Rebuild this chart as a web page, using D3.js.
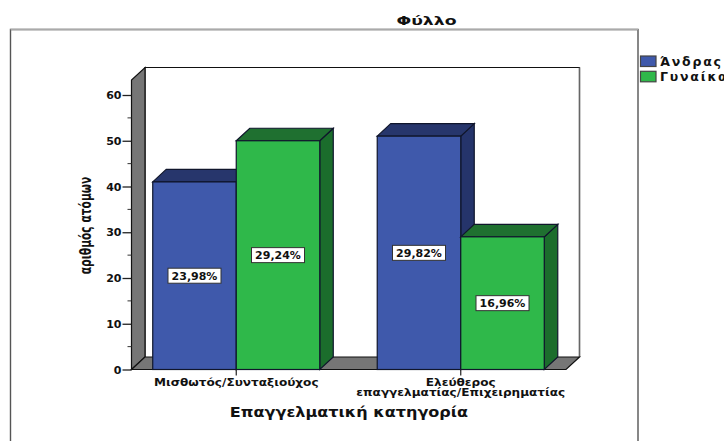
<!DOCTYPE html>
<html><head><meta charset="utf-8">
<script src="https://cdn.jsdelivr.net/npm/d3@7"></script>
<style>html,body{margin:0;padding:0;background:#fff;overflow:hidden}svg{display:block}text{font-family:"DejaVu Sans",sans-serif;font-weight:bold;fill:#111}</style>
</head><body><svg width="724" height="441"></svg>
<script>
const categories = ["Μισθωτός/Συνταξιούχος", "Ελεύθερος|επαγγελματίας/Επιχειρηματίας"];
const seriesNames = ["Άνδρας", "Γυναίκα"];
const maleValues = [41, 51];
const femaleValues = [50, 29];
const malePercents = ["23,98%", "29,82%"];
const femalePercents = ["29,24%", "16,96%"];
const yTicks = [0, 10, 20, 30, 40, 50, 60];
const yMinorTicks = [5, 15, 25, 35, 45, 55];
const frontColors = ["#3f59ab", "#2fb84a"];
const sideColors = ["#25346b", "#1b6d2c"];
const topColors = ["#27366c", "#1f7030"];

const svg = d3.select("svg");
const dx = 13.5, dy = -12.5;
const y = d3.scaleLinear().domain([0, 60]).range([369.5, 95]);
const yTop = 80;
const x0 = d3.scaleBand().domain(categories).range([124, 573]).paddingInner(0.256).paddingOuter(0.128);
const x1 = d3.scaleBand().domain(seriesNames).range([0, x0.bandwidth()]);
const plotL = 131.5, plotR = 566;
const line = d3.line();

// frame
svg.append("path").attr("d", line([[10.5, 441], [10.5, 29.5], [638, 29.5], [638, 441]]))
  .attr("fill", "none").attr("stroke", "#555").attr("stroke-width", 1.4);
svg.append("path").attr("d", line([[10.5, 29.5], [638, 29.5]])).attr("stroke", "#aaa").attr("stroke-width", 1.4);

// back wall
svg.append("path").attr("d", line([[plotL + dx, y(0) + dy], [plotL + dx, yTop + dy], [plotR + dx, yTop + dy], [plotR + dx, y(0) + dy]]))
  .attr("fill", "#fff").attr("stroke", "#111").attr("stroke-width", 1.2);
svg.append("path").attr("d", line([[plotR + dx, yTop + dy], [plotR + dx, y(0) + dy]]))
  .attr("stroke", "#666").attr("stroke-width", 1.4);

// left wall and floor
svg.append("polygon").attr("points", [[plotL, y(0)], [plotL, yTop], [plotL + dx, yTop + dy], [plotL + dx, y(0) + dy]].join(" "))
  .attr("fill", "#767676").attr("stroke", "#111").attr("stroke-width", 1.2);
svg.append("polygon").attr("points", [[plotL, y(0)], [plotL + dx, y(0) + dy], [plotR + dx, y(0) + dy], [plotR, y(0)]].join(" "))
  .attr("fill", "#767676").attr("stroke", "#111").attr("stroke-width", 1.2);

// bars
const rows = [];
categories.forEach((c, i) => {
  rows.push({ c, s: 0, v: maleValues[i], p: malePercents[i] });
  rows.push({ c, s: 1, v: femaleValues[i], p: femalePercents[i] });
});
const barG = svg.append("g").selectAll("g").data(rows).join("g");
const stroke = { stroke: "#10162c", w: 1.2 };
barG.each(function (d) {
  const g = d3.select(this);
  const l = x0(d.c) + x1(seriesNames[d.s]), r = l + x1.bandwidth(), t = y(d.v), b = y(0);
  g.append("polygon").attr("points", [[r, t], [r + dx, t + dy], [r + dx, b + dy], [r, b]].join(" "))
    .attr("fill", sideColors[d.s]).attr("stroke", stroke.stroke).attr("stroke-width", stroke.w);
  g.append("polygon").attr("points", [[l, t], [l + dx, t + dy], [r + dx, t + dy], [r, t]].join(" "))
    .attr("fill", topColors[d.s]).attr("stroke", stroke.stroke).attr("stroke-width", stroke.w);
  g.append("rect").attr("x", l).attr("y", t).attr("width", r - l).attr("height", b - t)
    .attr("fill", frontColors[d.s]).attr("stroke", stroke.stroke).attr("stroke-width", stroke.w);
});
// value labels
barG.each(function (d) {
  const g = d3.select(this);
  const cx = x0(d.c) + x1(seriesNames[d.s]) + x1.bandwidth() / 2, cy = y(d.v / 2);
  g.append("rect").attr("x", cx - 26.5).attr("y", cy - 7.5).attr("width", 53).attr("height", 15)
    .attr("fill", "#fff").attr("stroke", "#333").attr("stroke-width", 1);
  g.append("text").attr("x", cx).attr("y", cy + 4).attr("text-anchor", "middle")
    .attr("font-size", 11).text(d.p);
});

// y axis
const yAxis = svg.append("g").attr("transform", `translate(${plotL},0)`)
  .call(d3.axisLeft(y).tickValues(yTicks).tickSize(9).tickPadding(1));
yAxis.select(".domain").remove();
yAxis.selectAll("line").attr("stroke", "#222").attr("stroke-width", 1.3);
yAxis.selectAll("text").attr("font-size", 11).style("font-family", '"DejaVu Sans"').style("font-weight", "bold");
svg.append("g").selectAll("line").data(yMinorTicks).join("line")
  .attr("x1", plotL - 4).attr("x2", plotL).attr("y1", d => y(d)).attr("y2", d => y(d))
  .attr("stroke", "#333").attr("stroke-width", 1);

// x axis
const xAxis = svg.append("g").attr("transform", `translate(0,${y(0)})`)
  .call(d3.axisBottom(x0).tickSize(6).tickFormat(""));
xAxis.select(".domain").remove();
xAxis.selectAll("line").attr("stroke", "#222").attr("stroke-width", 1.2);
categories.forEach(c => {
  c.split("|").forEach((p, i) => {
    svg.append("text").attr("text-anchor", "middle").attr("font-size", 10)
      .attr("transform", `translate(${x0(c) + x0.bandwidth() / 2},${386 + i * 10}) scale(1.21,1)`)
      .text(p);
  });
});

// titles
svg.append("text").attr("transform", "translate(426.5,25) scale(1.33,1)").attr("text-anchor", "middle").attr("font-size", 13).text("Φύλλο");
svg.append("text").attr("transform", "translate(349,417) scale(1.19,1)").attr("text-anchor", "middle").attr("font-size", 13.5).text("Επαγγελματική κατηγορία");
svg.append("text").attr("transform", "translate(91,225.5) rotate(-90) scale(0.69,1)").attr("text-anchor", "middle")
  .attr("font-size", 15.5).text("αριθμός ατόμων");

// legend
const leg = svg.append("g").selectAll("g").data(seriesNames).join("g")
  .attr("transform", (d, i) => `translate(640.5,${56 + i * 15.3})`);
leg.append("rect").attr("width", 15.5).attr("height", 10.5).attr("fill", (d, i) => frontColors[i]).attr("stroke", "#444").attr("stroke-width", 1.2);
leg.append("text").attr("x", 19.5).attr("y", 10).attr("font-size", 12.5).attr("letter-spacing", 1.8).text(d => d);
</script></body></html>
